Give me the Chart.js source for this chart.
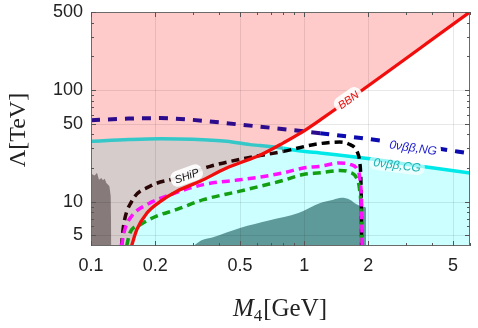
<!DOCTYPE html>
<html><head><meta charset="utf-8">
<script src="https://cdn.jsdelivr.net/npm/chart.js@4/dist/chart.umd.min.js"></script>
<style>html,body{margin:0;padding:0;background:#fff;}canvas{display:block;}</style>
</head><body>
<canvas id="c" width="478" height="328"></canvas>
<script>
// ---- axis ticks ----
const xTicks = [0.1, 0.2, 0.5, 1, 2, 5];
const xTickLabels = ['0.1', '0.2', '0.5', '1', '2', '5'];
const xMinor = [0.3, 0.4, 0.6, 0.7, 0.8, 0.9, 3, 4, 6];
const yTicks = [5, 10, 50, 100, 500];
const yTickLabels = ['5', '10', '50', '100', '500'];
const yMinor = [6, 7, 8, 9, 20, 30, 40, 60, 70, 80, 90, 200, 300, 400];

// ---- curves (M4 in GeV, Lambda in TeV) ----
const bbnX = [0.155, 0.164, 0.183, 0.211, 0.253, 0.325, 0.433, 0.557, 0.62, 0.8, 0.96, 1.19, 6];
const bbnY = [4, 5.6, 7.9, 10, 12.4, 15.2, 20, 24, 26, 33.6, 41, 54, 500];
const bbnEdgeX = [0.1].concat(bbnX);
const bbnEdgeY = [4].concat(bbnY);

const cgX = [0.1, 0.15, 0.211, 0.3, 0.433, 0.557, 0.62, 0.8, 0.99, 1.19, 2.04, 3.14, 6];
const cgY = [34.7, 36, 36.6, 36.2, 34.7, 32.4, 31.8, 30, 28.2, 27.3, 24.2, 21.4, 18];

const ngX = [0.1, 0.15, 0.211, 0.3, 0.5, 1, 1.19, 2.43, 4, 6];
const ngY = [53.5, 55.5, 56, 54, 49, 42.6, 41, 34.7, 30.4, 27];

const shipX = [0.139, 0.142, 0.155, 0.189, 0.253, 0.362, 0.54, 0.8, 1.15, 1.47, 1.64, 1.77, 1.82, 1.845, 1.855, 1.86];
const shipY = [4, 6, 10, 13.7, 16.3, 20.7, 24.6, 28.2, 32.8, 34.2, 32.4, 28.2, 23, 16, 9, 4];

const magX = [0.139, 0.144, 0.155, 0.183, 0.235, 0.337, 0.5, 0.62, 0.8, 0.99, 1.19, 1.47, 1.64, 1.77, 1.83, 1.86, 1.87];
const magY = [4, 5.6, 7.4, 9.4, 11.5, 14.2, 15.7, 16.6, 18.1, 20, 20.7, 22.2, 21.6, 19.6, 15.5, 9, 4];

const grnX = [0.147, 0.152, 0.17, 0.203, 0.253, 0.337, 0.5, 0.62, 0.8, 0.99, 1.19, 1.47, 1.64, 1.76, 1.82, 1.85, 1.86];
const grnY = [4, 5.2, 6.2, 7.4, 8.5, 10.4, 12.4, 13.7, 15.5, 17.5, 18.1, 19, 18.3, 16.3, 12.8, 8, 4];

const dgX = [0.1, 0.104, 0.1067, 0.109, 0.1118, 0.1138, 0.116, 0.118, 0.12, 0.122, 0.1237, 0.1246];
const dgY = [17.8, 17.1, 18.1, 15.7, 16.3, 15.5, 16, 14.7, 14.2, 13.7, 11.2, 4];

const tealX = [0.302, 0.33, 0.374, 0.5, 0.69, 0.94, 1.19, 1.37, 1.5, 1.64, 1.77, 1.9, 1.95, 1.951];
const tealY = [4, 4.5, 4.8, 5.8, 6.8, 7.9, 9.7, 10.4, 10.8, 10.4, 9.4, 9.0, 8.8, 4];

// ---- curve labels (anchor in data coords) ----
const labelText = ['BBN', 'SHiP', '0νββ,NG', '0νββ,CG'];
const labelX = [1.61, 0.281, 3.25, 2.73];
const labelY = [82, 17.1, 30.6, 21.4];

const pts = (xs, ys) => xs.map((x, i) => ({x: x, y: ys[i]}));

const labelStyle = [
  {angle: -35, color: '#e8100c', font: 'italic 11px "Liberation Sans", Arial', bg: 'rgba(255,255,255,0.9)'},
  {angle: -20, color: '#111', font: 'italic 11px "Liberation Sans", Arial', bg: 'rgba(255,255,255,0.92)'},
  {angle: 8, color: '#1a1ad0', font: 'italic 12px "Liberation Sans", Arial', bg: 'rgba(255,255,255,1)'},
  {angle: 7, color: '#1fb0b0', font: 'italic 12px "Liberation Sans", Arial', bg: 'rgba(255,255,255,0.6)'}
];

const deco = {
  id: 'deco',
  beforeDatasetsDraw(chart) {
    const {ctx, chartArea: a, scales: {x, y}} = chart;
    ctx.save();
    ctx.beginPath(); ctx.rect(a.left, a.top, a.right - a.left, a.bottom - a.top); ctx.clip();
    ctx.strokeStyle = 'rgba(0,0,0,0.09)'; ctx.lineWidth = 1;
    xTicks.forEach(v => {
      const p = Math.round(x.getPixelForValue(v)) + 0.5;
      ctx.beginPath(); ctx.moveTo(p, a.top); ctx.lineTo(p, a.bottom); ctx.stroke();
    });
    yTicks.forEach(v => {
      const p = Math.round(y.getPixelForValue(v)) + 0.5;
      ctx.beginPath(); ctx.moveTo(a.left, p); ctx.lineTo(a.right, p); ctx.stroke();
    });
    ctx.restore();
  },
  afterDatasetsDraw(chart) {
    const {ctx, chartArea: a, scales: {x, y}} = chart;
    ctx.save();
    labelText.forEach((t, i) => {
      const s = labelStyle[i];
      const px = x.getPixelForValue(labelX[i]), py = y.getPixelForValue(labelY[i]);
      ctx.save();
      ctx.translate(px, py); ctx.rotate(s.angle * Math.PI / 180);
      ctx.font = s.font;
      const w = ctx.measureText(t).width;
      ctx.fillStyle = s.bg;
      ctx.beginPath(); ctx.roundRect(-w / 2 - 4, -8, w + 8, 16, 7); ctx.fill();
      ctx.fillStyle = s.color; ctx.textAlign = 'center'; ctx.textBaseline = 'middle';
      ctx.fillText(t, 0, 1);
      ctx.restore();
    });
    ctx.strokeStyle = '#6a6a6a'; ctx.lineWidth = 1;
    ctx.strokeRect(Math.round(a.left) + 0.5, Math.round(a.top) + 0.5, Math.round(a.right - a.left) - 1, Math.round(a.bottom - a.top) - 1);
    ctx.strokeStyle = '#555';
    const tickX = (v, len) => {
      const p = Math.round(x.getPixelForValue(v)) + 0.5;
      ctx.beginPath(); ctx.moveTo(p, a.bottom); ctx.lineTo(p, a.bottom - len);
      ctx.moveTo(p, a.top); ctx.lineTo(p, a.top + len); ctx.stroke();
    };
    const tickY = (v, len) => {
      const p = Math.round(y.getPixelForValue(v)) + 0.5;
      ctx.beginPath(); ctx.moveTo(a.left, p); ctx.lineTo(a.left + len, p);
      ctx.moveTo(a.right, p); ctx.lineTo(a.right - len, p); ctx.stroke();
    };
    xTicks.forEach(v => tickX(v, 5)); xMinor.forEach(v => tickX(v, 3));
    yTicks.forEach(v => tickY(v, 5)); yMinor.forEach(v => tickY(v, 3));
    ctx.restore();
  },
  afterDraw(chart) {
    const {ctx} = chart;
    ctx.save();
    ctx.fillStyle = '#222';
    ctx.translate(19, 130); ctx.rotate(-Math.PI / 2);
    ctx.font = '24px "Liberation Serif", serif';
    ctx.textAlign = 'center'; ctx.textBaseline = 'middle';
    ctx.fillText('Λ[TeV]', 0, 0);
    ctx.restore();
    ctx.save();
    ctx.fillStyle = '#222'; ctx.textBaseline = 'alphabetic'; ctx.textAlign = 'left';
    const f1 = 'italic 25px "Liberation Serif", serif', f2 = '17px "Liberation Serif", serif', f3 = '25px "Liberation Serif", serif';
    ctx.font = f1; const w1 = ctx.measureText('M').width;
    ctx.font = f2; const w2 = ctx.measureText('4').width;
    ctx.font = f3; const w3 = ctx.measureText('[GeV]').width;
    let sx = 280 - (w1 + w2 + 1 + w3) / 2; const base = 316;
    ctx.font = f1; ctx.fillText('M', sx, base); sx += w1;
    ctx.font = f2; ctx.fillText('4', sx, base + 5); sx += w2 + 1;
    ctx.font = f3; ctx.fillText('[GeV]', sx, base);
    ctx.restore();
  }
};

const tickFont = {family: '"Liberation Sans", Arial, sans-serif', size: 18};

new Chart(document.getElementById('c'), {
  type: 'line',
  data: {
    datasets: [
      {label: 'cg region', data: pts(cgX, cgY), fill: 'start', backgroundColor: '#ccffff', borderWidth: 0, pointRadius: 0, order: 100},
      {label: 'bbn region', data: pts(bbnEdgeX, bbnEdgeY), fill: 'end', backgroundColor: '#ffcaca', borderWidth: 0, pointRadius: 0, order: 90},
      {label: 'overlap', data: pts(cgX, cgY), fill: {target: 1, above: '#d7cccc', below: 'rgba(0,0,0,0)'}, borderWidth: 0, pointRadius: 0, order: 80},
      {label: 'dark gray', data: pts(dgX, dgY), fill: 'start', backgroundColor: '#867a7a', borderWidth: 0, pointRadius: 0, order: 70},
      {label: 'teal', data: pts(tealX, tealY), fill: 'start', backgroundColor: '#5f9a9a', borderWidth: 0, pointRadius: 0, cubicInterpolationMode: 'monotone', order: 60},
      {label: '0νββ,CG', data: pts(cgX, cgY), fill: false, borderWidth: 3.5, pointRadius: 0, cubicInterpolationMode: 'monotone',
        borderColor: '#00e6e6', segment: {borderColor: c => c.p0.parsed.x < 0.74 ? '#36c8c8' : '#00e8e8'}, order: 50},
      {label: '0νββ,NG', data: pts(ngX, ngY), fill: false, borderWidth: 4, pointRadius: 0, cubicInterpolationMode: 'monotone',
        borderDash: [9, 8], borderColor: '#0b0bb0', segment: {borderColor: c => c.p0.parsed.x < 1.05 ? '#2c0b8c' : '#0b0bb0'}, order: 40},
      {label: 'SHiP', data: pts(shipX, shipY), fill: false, borderWidth: 3.5, pointRadius: 0, cubicInterpolationMode: 'monotone',
        borderDash: [8, 5], borderColor: '#000', segment: {borderColor: c => c.p0.parsed.x < 0.65 ? '#2a0606' : '#000'}, order: 35},
      {label: 'green', data: pts(grnX, grnY), fill: false, borderWidth: 3.5, pointRadius: 0, cubicInterpolationMode: 'monotone',
        borderDash: [8, 5], borderColor: '#12a012', order: 30},
      {label: 'magenta', data: pts(magX, magY), fill: false, borderWidth: 3.5, pointRadius: 0, cubicInterpolationMode: 'monotone',
        borderDash: [8, 5], borderColor: '#ff10ff', order: 25},
      {label: 'BBN', data: pts(bbnX, bbnY), fill: false, borderWidth: 3.3, pointRadius: 0, cubicInterpolationMode: 'monotone',
        borderColor: '#f20d0d', order: 10}
    ]
  },
  options: {
    responsive: false,
    animation: false,
    devicePixelRatio: 1,
    layout: {padding: {left: 0, right: 8, top: 12, bottom: 0}},
    plugins: {legend: {display: false}, tooltip: {enabled: false}, filler: {drawTime: 'beforeDatasetsDraw'}},
    scales: {
      x: {
        type: 'logarithmic', min: 0.1, max: 6,
        grid: {display: false, drawTicks: false}, border: {display: false},
        afterBuildTicks: s => { s.ticks = xTicks.map(v => ({value: v})); },
        afterFit: s => { s.height = 82; s.paddingLeft = 0; s.paddingRight = 0; },
        ticks: {autoSkip: false, maxRotation: 0, padding: 9, color: '#222', font: tickFont,
          callback: v => { const i = xTicks.indexOf(v); return i >= 0 ? xTickLabels[i] : ''; }}
      },
      y: {
        type: 'logarithmic', min: 4, max: 500,
        grid: {display: false, drawTicks: false}, border: {display: false},
        afterBuildTicks: s => { s.ticks = yTicks.map(v => ({value: v})); },
        afterFit: s => { s.width = 91; s.paddingTop = 0; s.paddingBottom = 0; },
        ticks: {autoSkip: false, padding: 8, color: '#222', font: tickFont,
          callback: v => { const i = yTicks.indexOf(v); return i >= 0 ? yTickLabels[i] : ''; }}
      }
    }
  },
  plugins: [deco]
});
</script>
</body></html>
